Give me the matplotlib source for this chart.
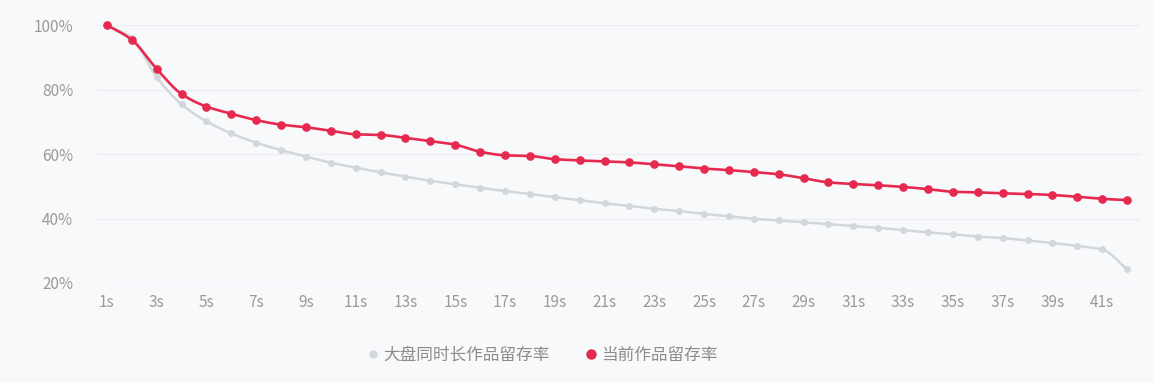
import numpy as np
import matplotlib
matplotlib.use("Agg")
import matplotlib.pyplot as plt
from matplotlib.lines import Line2D

plt.rcParams["font.family"] = ["Noto Sans CJK SC", "DejaVu Sans"]

SECONDS = list(range(1, 43))
TICK_LABELS = [f"{s}s" for s in SECONDS]

# 大盘同时长作品留存率 (%)
BASELINE = [100.0, 96.0, 83.8, 75.4, 70.1, 66.4, 63.5, 61.2, 59.2, 57.3,
            55.8, 54.3, 53.0, 51.7, 50.6, 49.5, 48.5, 47.6, 46.6, 45.7,
            44.7, 43.9, 43.0, 42.3, 41.4, 40.7, 39.9, 39.4, 38.8, 38.2,
            37.6, 37.1, 36.4, 35.7, 35.1, 34.4, 33.9, 33.2, 32.4, 31.5,
            30.4, 24.3]
# 当前作品留存率 (%)
CURRENT = [100.0, 95.4, 86.4, 78.6, 74.7, 72.5, 70.5, 69.1, 68.3, 67.2,
           66.1, 65.9, 65.0, 64.0, 62.9, 60.7, 59.6, 59.4, 58.4, 58.0,
           57.7, 57.4, 56.8, 56.2, 55.5, 55.0, 54.4, 53.7, 52.5, 51.2,
           50.7, 50.3, 49.8, 49.1, 48.3, 48.1, 47.8, 47.6, 47.3, 46.7,
           46.1, 45.7]

BG = "#f8f9fb"
GREY = "#d3d6da"
RED = "#e6294f"
TEXT = "#9a9a9a"


def smooth(x, y, n=20):
    # monotone cubic hermite, only for drawing the line between the points
    x = np.asarray(x, float)
    y = np.asarray(y, float)
    h = np.diff(x)
    d = np.diff(y) / h
    m = np.zeros_like(y)
    m[0], m[-1] = d[0], d[-1]
    for i in range(1, len(y) - 1):
        if d[i - 1] * d[i] > 0:
            m[i] = 2 / (1 / d[i - 1] + 1 / d[i])
    xs, ys = [], []
    for i in range(len(h)):
        t = np.linspace(0, 1, n, endpoint=False)
        h00 = 2 * t**3 - 3 * t**2 + 1
        h10 = t**3 - 2 * t**2 + t
        h01 = -2 * t**3 + 3 * t**2
        h11 = t**3 - t**2
        xs.append(x[i] + t * h[i])
        ys.append(h00 * y[i] + h10 * h[i] * m[i] + h01 * y[i + 1] + h11 * h[i] * m[i + 1])
    xs.append([x[-1]])
    ys.append([y[-1]])
    return np.concatenate(xs), np.concatenate(ys)


fig = plt.figure(figsize=(11.53, 3.83), dpi=100, facecolor=BG)
ax = fig.add_axes([0.0841, 0.2611, 0.9046, 0.6736], facecolor=BG)

bx, by = smooth(SECONDS, BASELINE)
ax.plot(bx, by, color=GREY, lw=1.8, zorder=2, clip_on=False)
ax.plot(SECONDS, BASELINE, "o", color=GREY, ms=4, zorder=3, clip_on=False)

cx, cy = smooth(SECONDS, CURRENT)
ax.plot(cx, cy, color=RED, lw=1.9, zorder=4, clip_on=False)
ax.plot(SECONDS, CURRENT, "o", color=RED, ms=5.2, zorder=5, clip_on=False)

ax.set_xlim(0.6, 42.52)
ax.set_ylim(20, 100)
ax.set_yticks([20, 40, 60, 80, 100])
ax.set_yticklabels([f"{v}%" for v in [20, 40, 60, 80, 100]])
ax.set_xticks(SECONDS[::2])
ax.set_xticklabels(TICK_LABELS[::2])
ax.tick_params(axis="both", length=0, labelsize=11, colors=TEXT)
ax.tick_params(axis="y", pad=17)
ax.tick_params(axis="x", pad=8)
ax.grid(axis="y", color="#eceef1", lw=1)
for s in ax.spines.values():
    s.set_visible(False)

handles = [
    Line2D([], [], ls="", marker="o", ms=5, color=GREY),
    Line2D([], [], ls="", marker="o", ms=6.5, color=RED),
]
fig.legend(handles, ["大盘同时长作品留存率", "当前作品留存率"], loc="center",
           bbox_to_anchor=(541 / 1153, 1 - 355 / 383), ncol=2, frameon=False,
           fontsize=12, labelcolor="#8c8c8c", handletextpad=0.1,
           columnspacing=2.0, handlelength=1.0)

fig.savefig("out.png", dpi=100, facecolor=BG)
